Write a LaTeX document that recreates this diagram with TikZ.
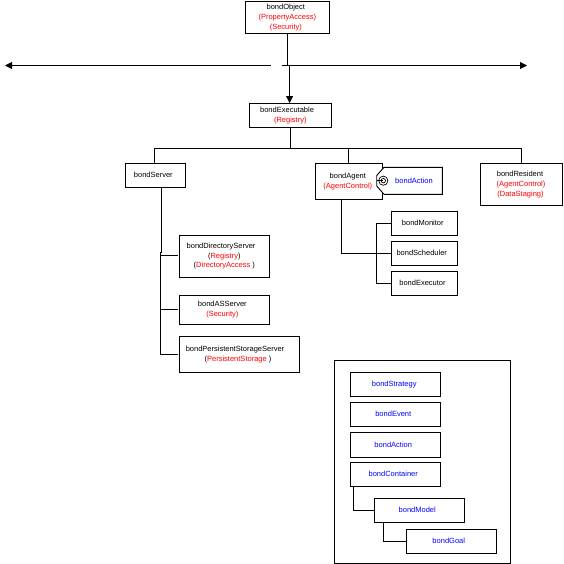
\documentclass[tikz,border=0pt]{standalone}
\usepackage{fontspec}
\setmainfont{Liberation Sans}
\usetikzlibrary{arrows.meta, positioning, calc}

\definecolor{bondRed}{HTML}{FF0000}
\definecolor{bondBlue}{HTML}{0000FF}

\tikzset{
    bondbox/.style={draw=black, line width=0.9pt, fill=white, inner sep=0pt, align=center, font=\fontsize{7.5}{9.7}\selectfont},
    bondline/.style={draw=black, line width=0.9pt},
    bondarrow/.style={bondline, -{Triangle[length=7pt, width=7pt]}}
}

\newcommand{\facet}[1]{\textcolor{bondRed}{#1}}
\newcommand{\bluecls}[1]{\textcolor{bondBlue}{#1}}

\begin{document}
\begin{tikzpicture}[x=1pt, y=-1pt]
    \useasboundingbox (0,0) rectangle (563,564);

    \node[bondbox, minimum width=83.5pt, minimum height=32.5pt] (object) at (287.3, 17.4) {bondObject\hspace*{3pt}\\\facet{(PropertyAccess)}\hspace*{3pt}\\\facet{(Security)}\hspace*{3pt}};
    \node[bondbox, minimum width=81.5pt, minimum height=24pt] (executable) at (290.3, 115.5) {bondExecutable\hspace*{6.5pt}\\\facet{(Registry)}};
    \node[bondbox, minimum width=60pt, minimum height=24pt] (server) at (155.3, 175.3) {bondServer\hspace*{4pt}};
    \node[bondbox, minimum width=67pt, minimum height=36pt] (agent) at (348.8, 181.3) {bondAgent\hspace*{2pt}\\\facet{(AgentControl)}\hspace*{2pt}};
    \node[bondbox, minimum width=82pt, minimum height=42pt] (resident) at (521, 184.5) {bondResident\hspace*{2pt}\\\facet{(AgentControl)}\hspace*{1pt}\\\facet{(DataStaging)}\hspace*{1pt}};

    \node[bondbox, minimum width=90pt, minimum height=42pt] (directory) at (224.3, 256.3) {bondDirectoryServer\hspace*{6.5pt}\\(\facet{Registry})\\(\facet{DirectoryAccess} )};
    \node[bondbox, minimum width=90pt, minimum height=29pt] (asserver) at (224.3, 309.8) {bondASServer\hspace*{4pt}\\\facet{(Security)}\hspace*{4pt}};
    \node[bondbox, minimum width=120.4pt, minimum height=35.6pt] (persistent) at (239.5, 354.5) {bondPersistentStorageServer\hspace*{9pt}\\(\facet{PersistentStorage} )\hspace*{3pt}};

    \node[bondbox, minimum width=66.4pt, minimum height=24pt] (monitor) at (424.5, 223.3) {bondMonitor\hspace*{3.5pt}};
    \node[bondbox, minimum width=66.4pt, minimum height=24pt] (scheduler) at (424.5, 253.3) {bondScheduler\hspace*{5.5pt}};
    \node[bondbox, minimum width=66.4pt, minimum height=24pt] (executor) at (424.5, 283.3) {bondExecutor\hspace*{4pt}};

    \draw[bondline, fill=white] (384,167.3) -- (442.3,167.3) -- (442.3,194.3) -- (384,194.3) -- (376.7,186) -- (376.7,175.5) -- cycle;
    \node[font=\fontsize{7.5}{9.7}\selectfont, inner sep=0pt] (action) at (414, 180.5) {\bluecls{bondAction}};
    \draw[line width=0.7pt] (383.3,180.7) circle (4.6pt);
    \draw[line width=0.7pt] (383.3,180.7) circle (2.2pt);
    \draw[line width=0.7pt] (376.7,180.7) -- (383.3,180.7);

    \coordinate (splitL) at (270.5, 65.5);
    \coordinate (splitR) at (281.5, 65.5);
    \coordinate (tipL) at (5, 65.5);
    \coordinate (tipR) at (527, 65.5);
    \draw[bondarrow] (splitL) -- (tipL);
    \draw[bondarrow] (splitR) -- (tipR);
    \draw[bondline] (287, 33.6) -- (287, 65.5);
    \draw[bondarrow] (289.6, 65) -- (executable.north -| 289.6, 0);

    \coordinate (busT) at (290.6, 148.5);
    \draw[bondline] (executable.south -| busT) -- (busT);
    \draw[bondline] (server.north -| 154.7, 0) |- (busT);
    \draw[bondline] (resident.north) |- (busT);
    \draw[bondline] (agent.north) -- (agent.north |- busT);

    \coordinate (srvA) at (161.3, 252.3);
    \coordinate (srvB) at (160.3, 252.3);
    \draw[bondline] (server.south -| srvA) -- (srvA) -- (srvB) |- (178, 354.3);
    \draw[bondline] (160.3, 255) -- (178, 255);
    \draw[bondline] (160.3, 309.3) -- (178, 309.3);

    \coordinate (agtB) at (376.3, 253.3);
    \draw[bondline] (agent.south -| 341.3, 0) |- (scheduler.west);
    \draw[bondline] (monitor.west) -| (agtB);
    \draw[bondline] (executor.west) -| (agtB);

    \draw[bondline] (334.3, 360.3) rectangle (510.3, 563.3);

    \node[bondbox, minimum width=90.4pt, minimum height=24pt] (strategy) at (395.5, 384.3) {\bluecls{bondStrategy}\hspace*{2.5pt}};
    \node[bondbox, minimum width=90.4pt, minimum height=24pt] (event) at (395.5, 414.3) {\bluecls{bondEvent}\hspace*{4.5pt}};
    \node[bondbox, minimum width=90.4pt, minimum height=25pt] (actionb) at (395.5, 444.8) {\bluecls{bondAction}\hspace*{4.5pt}};
    \node[bondbox, minimum width=90.4pt, minimum height=24pt] (container) at (395.5, 474.3) {\bluecls{bondContainer}\hspace*{4.5pt}};
    \node[bondbox, minimum width=90.4pt, minimum height=24pt] (model) at (419.5, 510.3) {\bluecls{bondModel}\hspace*{4.5pt}};
    \node[bondbox, minimum width=90.4pt, minimum height=24pt] (goal) at (451.5, 541.3) {\bluecls{bondGoal}\hspace*{5.5pt}};

    \draw[bondline] (container.south -| 353.3, 0) |- (model.west);
    \draw[bondline] (model.south -| 383.3, 0) |- (goal.west);
\end{tikzpicture}
\end{document}
